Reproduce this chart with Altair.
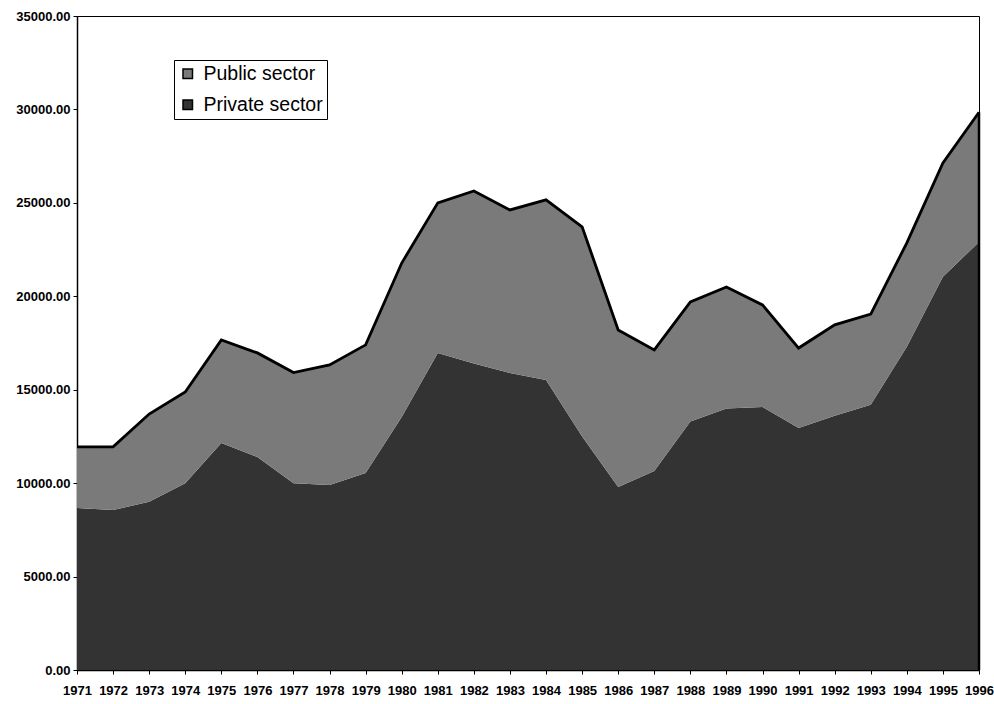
import altair as alt
import pandas as pd

years = list(range(1971, 1997))
private_sector = [8670, 8560, 9000, 10000, 12150, 11400, 10000, 9900, 10540, 13540,
                  16970, 16400, 15900, 15520, 12500, 9800, 10650, 13300, 14000, 14080,
                  12950, 13600, 14200, 17300, 21050, 22900]
total = [11940, 11940, 13700, 14880, 17660, 16970, 15920, 16330, 17400, 21780,
         25000, 25640, 24620, 25160, 23720, 18200, 17130, 19700, 20500, 19540,
         17230, 18470, 19050, 22860, 27140, 29850]
public_sector = [t - p for t, p in zip(total, private_sector)]

series = ["Public sector", "Private sector"]
colors = ["#7a7a7a", "#333333"]
y_ticks = [0, 5000, 10000, 15000, 20000, 25000, 30000, 35000]

rows = []
for i, yr in enumerate(years):
    rows.append({"year": yr, "sector": "Private sector", "value": private_sector[i], "ord": 0})
    rows.append({"year": yr, "sector": "Public sector", "value": public_sector[i], "ord": 1})
df = pd.DataFrame(rows)

FONT = "Liberation Sans"

x_enc = alt.X("year:O",
              scale=alt.Scale(type="point", padding=0),
              axis=alt.Axis(title=None, grid=False, labelAngle=0,
                            labelFont=FONT, labelFontSize=13, labelFontWeight="bold",
                            labelColor="black", domainColor="black", tickColor="black",
                            tickSize=4, labelPadding=10, labelOverlap=False,
                            domainWidth=1.5))

area = alt.Chart(df).mark_area(opacity=1, interpolate="linear").encode(
    x=x_enc,
    y=alt.Y("value:Q", stack="zero",
            scale=alt.Scale(domain=[0, 35000], nice=False),
            axis=alt.Axis(values=y_ticks, format=".2f", title=None, grid=False,
                          labelFont=FONT, labelFontSize=13, labelFontWeight="bold",
                          labelColor="black", domainColor="black", tickColor="black",
                          tickSize=4, labelPadding=3, domainWidth=1.5)),
    color=alt.Color("sector:N",
                    scale=alt.Scale(domain=series, range=colors),
                    legend=alt.Legend(title=None, orient="none", legendX=97, legendY=44,
                                      labelFont=FONT, labelFontSize=19.5, labelColor="black",
                                      symbolType="square", symbolSize=90,
                                      symbolStrokeColor="black", symbolStrokeWidth=1.5,
                                      strokeColor="black", fillColor="white",
                                      padding=4, rowPadding=10, labelOffset=6)),
    order=alt.Order("ord:Q"),
)

line = alt.Chart(df).transform_aggregate(
    tot="sum(value)", groupby=["year"]
).mark_line(color="black", strokeWidth=2.8, interpolate="linear").encode(
    x=alt.X("year:O"),
    y=alt.Y("tot:Q"),
)

right_edge = alt.Chart(df).transform_aggregate(
    tot="sum(value)", groupby=["year"]
).transform_filter(alt.datum.year == 1996).mark_rule(color="black", strokeWidth=2.5).encode(
    x=alt.X("year:O"),
    y=alt.Y("tot:Q"),
    y2=alt.datum(0),
)

chart = alt.layer(area, line, right_edge).properties(
    width=902, height=654,
    autosize=alt.AutoSizeParams(type="none"),
    padding={"left": 77, "top": 16, "right": 15, "bottom": 34},
    background="white",
).configure_view(stroke="black", strokeWidth=1)

chart.save("out.html", embed_options={"renderer": "svg", "actions": False})
